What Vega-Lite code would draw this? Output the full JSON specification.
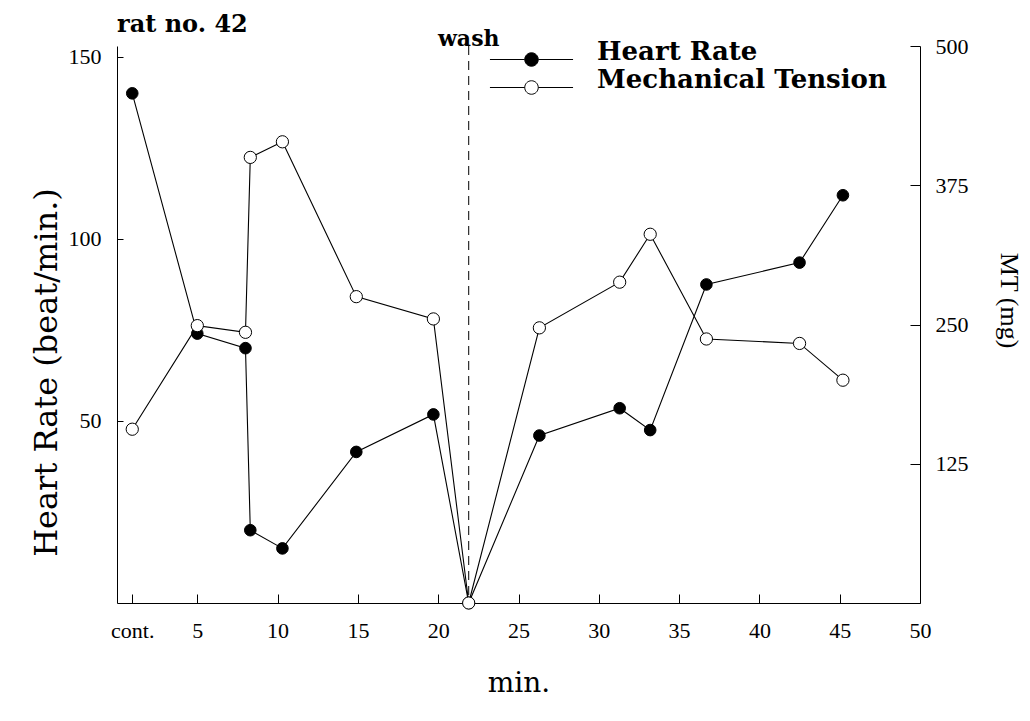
{
  "$schema": "https://vega.github.io/schema/vega-lite/v6.json",
  "autosize": "none",
  "width": 803,
  "height": 557,
  "padding": {"left": 117, "top": 46, "right": 110, "bottom": 118},
  "background": "white",
  "config": {
    "view": {"stroke": null},
    "axis": {
      "grid": false,
      "domainColor": "black",
      "domainWidth": 1,
      "tickColor": "black",
      "tickWidth": 1,
      "labelColor": "black",
      "titleColor": "black",
      "labelFont": "Liberation Serif",
      "labelFontSize": 22,
      "titleFont": "DejaVu Serif",
      "titleFontWeight": "normal"
    }
  },
  "title": {
    "text": "rat no. 42",
    "anchor": "start",
    "frame": "group",
    "font": "DejaVu Serif",
    "fontSize": 24,
    "fontWeight": "bold",
    "color": "black",
    "baseline": "alphabetic",
    "offset": -28
  },
  "datasets": {
    "hr": [
      {"t": 0.95, "hr": 140},
      {"t": 5.0, "hr": 74},
      {"t": 8.0, "hr": 70},
      {"t": 8.3, "hr": 20},
      {"t": 10.3, "hr": 15},
      {"t": 14.9, "hr": 41.5},
      {"t": 19.7, "hr": 51.8},
      {"t": 21.9, "hr": 0},
      {"t": 26.3, "hr": 46},
      {"t": 31.3, "hr": 53.5},
      {"t": 33.2, "hr": 47.5},
      {"t": 36.7, "hr": 87.5},
      {"t": 42.5, "hr": 93.5},
      {"t": 45.2, "hr": 112}
    ],
    "mt": [
      {"t": 0.95, "mt": 156},
      {"t": 5.0, "mt": 249},
      {"t": 8.0, "mt": 243},
      {"t": 8.3, "mt": 400},
      {"t": 10.3, "mt": 414},
      {"t": 14.9, "mt": 275},
      {"t": 19.7, "mt": 255},
      {"t": 21.9, "mt": 0},
      {"t": 26.3, "mt": 247},
      {"t": 31.3, "mt": 288},
      {"t": 33.2, "mt": 331},
      {"t": 36.7, "mt": 237},
      {"t": 42.5, "mt": 233},
      {"t": 45.2, "mt": 200}
    ],
    "wash": [{"t": 21.9, "label": "wash"}]
  },
  "encoding": {
    "x": {
      "field": "t",
      "type": "quantitative",
      "scale": {"domain": [0, 50], "nice": false, "zero": false},
      "axis": {
        "title": "min.",
        "titleFontSize": 28,
        "titleY": 80,
        "titleBaseline": "middle",
        "values": [0.95, 5, 10, 15, 20, 25, 30, 35, 40, 45, 50],
        "labelExpr": "datum.value < 1 ? 'cont.' : datum.label",
        "tickSize": -9,
        "labelPadding": 26,
        "labelFlush": false,
        "labelOverlap": false
      }
    }
  },
  "layer": [
    {
      "layer": [
        {
          "data": {"name": "wash"},
          "mark": {"type": "rule", "color": "black", "strokeWidth": 1, "strokeDash": [9, 6]},
          "encoding": {}
        },
        {
          "data": {"name": "wash"},
          "mark": {"type": "text", "font": "DejaVu Serif", "fontSize": 22, "fontWeight": "bold", "baseline": "alphabetic", "dy": 0, "color": "black"},
          "encoding": {
            "y": {"datum": 153, "type": "quantitative"},
            "text": {"field": "label"}
          }
        },
        {
          "data": {"name": "hr"},
          "mark": {"type": "line", "color": "black", "strokeWidth": 1.1},
          "encoding": {
            "y": {
              "field": "hr",
              "type": "quantitative",
              "scale": {"domain": [0, 153], "nice": false},
              "axis": {
                "orient": "left",
                "title": "Heart Rate (beat/min.)",
                "titleFontSize": 32,
                "titleX": -71,
                "titleY": 326,
                "titleBaseline": "middle",
                "values": [50, 100, 150],
                "tickSize": -6,
                "labelPadding": 22
              }
            }
          }
        },
        {
          "data": {"name": "hr"},
          "mark": {"type": "point", "shape": "circle", "filled": true, "size": 135, "stroke": "black", "strokeWidth": 1, "opacity": 1},
          "encoding": {
            "y": {"field": "hr", "type": "quantitative"},
            "fill": {
              "datum": "Heart Rate",
              "type": "nominal",
              "scale": {"domain": ["Heart Rate", "Mechanical Tension"], "range": ["black", "white"]},
              "legend": {
                "title": null,
                "orient": "none",
                "legendX": 399,
                "legendY": -2,
                "symbolType": "M-2.77,0L-0.45,0M0.45,0L2.77,0M-0.45,0A0.45,0.45,0,1,1,0.45,0A0.45,0.45,0,1,1,-0.45,0Z",
                "symbolSize": 900,
                "symbolStrokeColor": "black",
                "symbolStrokeWidth": 1,
                "symbolOpacity": 1,
                "labelFont": "DejaVu Serif",
                "labelFontSize": 26,
                "labelFontWeight": "bold",
                "labelColor": "black",
                "labelBaseline": "alphabetic",
                "labelOffset": 50,
                "labelLimit": 0,
                "rowPadding": -3,
                "padding": 0
              }
            }
          }
        }
      ]
    },
    {
      "data": {"name": "mt"},
      "layer": [
        {
          "mark": {"type": "line", "color": "black", "strokeWidth": 1.1},
          "encoding": {
            "y": {
              "field": "mt",
              "type": "quantitative",
              "scale": {"domain": [0, 500], "nice": false},
              "axis": {
                "orient": "right",
                "title": "MT (mg)",
                "titleFont": "Liberation Serif",
                "titleFontSize": 26,
                "titleAngle": 90,
                "titleX": 88,
                "titleY": 254,
                "titleBaseline": "middle",
                "values": [125, 250, 375, 500],
                "tickSize": -10,
                "labelPadding": 25
              }
            }
          }
        },
        {
          "mark": {"type": "point", "shape": "circle", "filled": true, "size": 150, "stroke": "black", "strokeWidth": 1, "opacity": 1},
          "encoding": {
            "y": {"field": "mt", "type": "quantitative"},
            "fill": {"datum": "Mechanical Tension", "type": "nominal"}
          }
        }
      ]
    }
  ],
  "resolve": {"scale": {"y": "independent"}}
}
